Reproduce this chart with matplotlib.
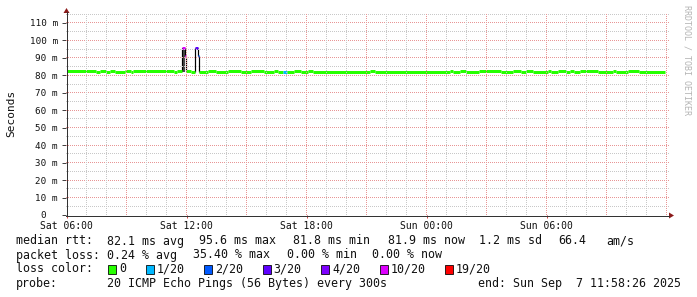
import matplotlib
matplotlib.use("Agg")
import matplotlib.pyplot as plt
from matplotlib.patches import Rectangle, Polygon
from matplotlib.lines import Line2D
import numpy as np

# ---------------- data ----------------
# hours since Sat 06:00, start of each run of the median line
run_start_h = [0.00, 1.45, 1.65, 1.95, 2.15, 2.40, 2.90, 3.20, 3.30, 5.35, 5.50,
               5.75, 5.90, 5.95, 6.20, 6.40, 6.55, 6.60, 7.05, 7.45, 8.05, 8.70,
               9.20, 9.85, 10.35, 10.55, 10.80, 11.00, 11.35, 11.70, 12.05, 12.30,
               15.15, 15.40, 19.15, 19.30, 19.65, 19.95, 20.60, 21.70, 22.30, 22.70,
               22.95, 23.30, 24.05, 24.20, 24.55, 24.95, 25.15, 25.35, 25.65, 26.55,
               27.30, 27.45, 28.05, 28.60]
run_median_ms = [82.4, 81.8, 82.4, 81.8, 82.4, 81.8, 82.4, 81.8, 82.4, 81.8, 82.4,
                 95.6, 91.1, 82.4, 81.8, 95.6, 91.1, 81.8, 82.4, 81.8, 82.4, 81.8,
                 82.4, 81.8, 82.4, 81.8, 81.8, 81.8, 82.4, 81.8, 82.4, 81.8,
                 82.4, 81.8, 82.4, 81.8, 82.4, 81.8, 82.4, 81.8, 82.4, 81.8,
                 82.4, 81.8, 82.4, 81.8, 82.4, 81.8, 82.4, 81.8, 82.4, 81.8,
                 82.4, 81.8, 82.4, 81.8]
run_loss = [0] * 11 + [10, 10, 0, 0, 3, 2] + [0] * 9 + [1] + [0] * 29
data_end_h = 29.90

# smoke (ping spread) around the first spike
smoke_start_h = [5.75]
smoke_end_h = [5.93]
smoke_lo_ms = [82.0]
smoke_hi_ms = [95.6]

ytick_ms = [0, 10, 20, 30, 40, 50, 60, 70, 80, 90, 100, 110]
xtick_h = [0, 6, 12, 18, 24]
xtick_labels = ["Sat 06:00", "Sat 12:00", "Sat 18:00", "Sun 00:00", "Sun 06:00"]

loss_levels = [0, 1, 2, 3, 4, 10, 19]
loss_labels = ["0", "1/20", "2/20", "3/20", "4/20", "10/20", "19/20"]
loss_colors = ["#26ff00", "#00b8ff", "#0059ff", "#5e00ff", "#7e00ff", "#dd00ff", "#ff0000"]

# ---------------- figure ----------------
W, H = 697, 297
DPI = 100
fig = plt.figure(figsize=(W / DPI, H / DPI), dpi=DPI, facecolor="white")
MONO = "DejaVu Sans Mono"
PX = 72.0 / DPI  # points per pixel

L, R, B, T = 66, 669, 215, 14.27
ax = fig.add_axes([L / W, 1 - B / H, (R - L) / W, (B - T) / H])
x0 = -0.025
x1 = x0 + (R - L) / 20.0
ax.set_xlim(x0, x1)
ax.set_ylim(0, 115)
for s in ax.spines.values():
    s.set_visible(False)
ax.patch.set_visible(False)

# grid: 1px dotted lines rendered as a pixel image, positions from the axes transform
minor_c = np.array([200, 200, 200, 255], dtype=np.uint8)
major_c = np.array([232, 150, 150, 255], dtype=np.uint8)
img = np.zeros((H, W, 4), dtype=np.uint8)
top_row = int(T)
bot_row = B


def col_of_h(h):
    xd, _ = ax.transData.transform((h, 0))
    return int(np.floor(xd))


def row_of_v(v):
    _, yd = ax.transData.transform((0, v))
    return H - 1 - int(np.floor(yd))


for v in range(5, 116, 5):
    r = row_of_v(v)
    c = major_c if v % 10 == 0 else minor_c
    img[r, L:R:2] = c
for h in range(1, 31):
    cc = col_of_h(h)
    if cc >= R:
        continue
    c = major_c if h % 3 == 0 else minor_c
    img[top_row:bot_row:2, cc] = c
fig.figimage(img, xo=0, yo=0, origin="upper", zorder=0)

# smoke
for s0, s1, lo, hi in zip(smoke_start_h, smoke_end_h, smoke_lo_ms, smoke_hi_ms):
    ax.fill_between([s0, s1], [lo, lo], [hi, hi], color="#4a4a4a", lw=0, zorder=2)

# median line
ends = run_start_h[1:] + [data_end_h]
col_of = dict(zip(loss_levels, loss_colors))
for i, (s0, s1, v, lo) in enumerate(zip(run_start_h, ends, run_median_ms, run_loss)):
    ax.plot([s0, s1], [v, v], color=col_of[lo], lw=3 * PX, solid_capstyle="butt", zorder=4)
    if i > 0:
        pv = run_median_ms[i - 1]
        if abs(v - pv) > 2:
            ax.plot([s0, s0], [min(v, pv), max(v, pv)], color="black", lw=1.2 * PX,
                    solid_capstyle="butt", zorder=3)

# ticks
ax.set_yticks(ytick_ms)
ax.set_yticklabels([("%d m" % v) if v else "0  " for v in ytick_ms])
ax.set_xticks(xtick_h)
ax.set_xticklabels(xtick_labels)
ax.tick_params(axis="y", length=3, width=PX, color="#444444", pad=3, labelsize=6.7, direction="out")
ax.tick_params(axis="x", length=2, width=PX, color="#cc4444", pad=2, labelsize=7, direction="out")
for lab in ax.get_yticklabels() + ax.get_xticklabels():
    lab.set_fontfamily(MONO)
    lab.set_color("#111111")


def fx(x):
    return x / W


def fy(y):
    return 1 - y / H


# axes lines and arrows
fig.add_artist(Line2D([fx(66.5), fx(66.5)], [fy(215), fy(12)], color="#333333", lw=PX))
fig.add_artist(Line2D([fx(66), fx(669)], [fy(215.5), fy(215.5)], color="#333333", lw=PX))
arrow_c = "#8b1a1a"
fig.add_artist(Polygon([[fx(63.5), fy(13)], [fx(69.5), fy(13)], [fx(66.5), fy(8)]],
                       closed=True, color=arrow_c, lw=0))
fig.add_artist(Polygon([[fx(669), fy(212.5)], [fx(669), fy(218.5)], [fx(674), fy(215.5)]],
                       closed=True, color=arrow_c, lw=0))

# y label and watermark
fig.text(fx(11), fy(113), "Seconds", rotation=90, ha="center", va="center",
         fontsize=8, family=MONO, color="#111111")
fig.text(fx(687), fy(5), "RRDTOOL / TOBI OETIKER", rotation=270, ha="center", va="top",
         fontsize=6, family=MONO, color="#b4b4b4")

# legend text
FS = 8.4


def t(x, y, s):
    fig.text(fx(x), fy(y), s, ha="left", va="center", fontsize=FS, family=MONO, color="#111111")


y1, y2, y3, y4 = 241, 255, 269, 283
t(16, y1, "median rtt:")
for x, s in [(107.3, "82.1 ms avg"), (199.3, "95.6 ms max"), (293.3, "81.8 ms min"),
             (387.7, "81.9 ms now"), (479.3, "1.2 ms sd"), (558.3, "66.4"), (606.7, "am/s")]:
    t(x, y1, s)
t(16, y2, "packet loss:")
for x, s in [(107.3, "0.24 % avg"), (192.7, "35.40 % max"), (286.7, "0.00 % min"),
             (372.3, "0.00 % now")]:
    t(x, y2, s)
t(16, y3, "loss color:")
bx = 108.3
for lab, c in zip(loss_labels, loss_colors):
    fig.add_artist(Rectangle((fx(bx), fy(y3 + 4.5)), 8 / W, 9 / H, facecolor=c,
                             edgecolor="black", lw=0.8 * PX))
    t(bx + 11, y3, lab)
    bx = bx + 11 + len(lab) * 7.02 + 19.4
t(16, y4, "probe:")
t(107.3, y4, "20 ICMP Echo Pings (56 Bytes) every 300s")
t(478.3, y4, "end: Sun Sep  7 11:58:26 2025")

fig.savefig("out.png", dpi=DPI, facecolor="white")
